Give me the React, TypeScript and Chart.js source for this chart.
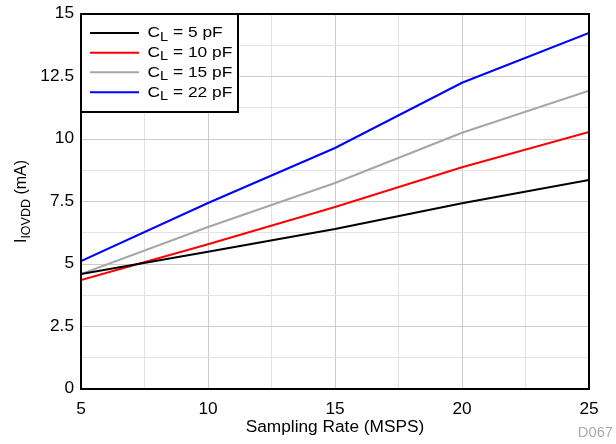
import React, { useEffect, useRef } from 'react';
import { Chart, registerables } from 'chart.js';

Chart.register(...registerables);

const samplingRate = [5, 10, 15, 20, 25];
const iCl5 = [4.6, 5.49, 6.4, 7.43, 8.36];
const iCl10 = [4.36, 5.79, 7.28, 8.87, 10.28];
const iCl15 = [4.6, 6.48, 8.24, 10.25, 11.93];
const iCl22 = [5.12, 7.44, 9.64, 12.25, 14.24];
const seriesValues = [iCl5, iCl10, iCl15, iCl22];
const seriesCaps = ['5', '10', '15', '22'];
const seriesColors = ['#000000', '#ff0000', '#a6a6a6', '#0000ff'];
const xTickLabels = ['5', '10', '15', '20', '25'];
const yTickLabels = ['0', '2.5', '5', '7.5', '10', '12.5', '15'];
const xTitle = 'Sampling Rate (MSPS)';
const yTitleMain = 'I';
const yTitleSub = 'IOVDD';
const yTitleRest = ' (mA)';
const figId = 'D067';

const FONT = '"Liberation Sans", Arial, Helvetica, sans-serif';
const SX = 1.08;

type Seg = { t: string; size: number; dy: number };

function drawSegs(
  ctx: CanvasRenderingContext2D,
  segs: Seg[],
  x: number,
  y: number,
  align: 'left' | 'center' | 'right',
  sx: number
) {
  ctx.save();
  ctx.translate(x, y);
  ctx.scale(sx, 1);
  ctx.textBaseline = 'middle';
  ctx.textAlign = 'left';
  let total = 0;
  const ws = segs.map((s) => {
    ctx.font = `${s.size}px ${FONT}`;
    const w = ctx.measureText(s.t).width;
    total += w;
    return w;
  });
  let cx = align === 'left' ? 0 : align === 'center' ? -total / 2 : -total;
  segs.forEach((s, i) => {
    ctx.font = `${s.size}px ${FONT}`;
    ctx.fillText(s.t, cx, s.dy);
    cx += ws[i];
  });
  ctx.restore();
}

const overlay = {
  id: 'overlay',
  afterDatasetsDraw(chart: any) {
    const ctx = chart.ctx as CanvasRenderingContext2D;
    const a = chart.chartArea;
    const xs = chart.scales.x;
    const ys = chart.scales.y;
    ctx.save();
    // legend box
    const lx = a.left, ly = a.top, lw = 157, lh = 98;
    ctx.fillStyle = '#fff';
    ctx.fillRect(lx, ly, lw, lh);
    ctx.lineWidth = 2;
    ctx.strokeStyle = '#000';
    ctx.strokeRect(lx, ly, lw, lh);
    const rows = [33, 52.7, 72.3, 92.3];
    seriesCaps.forEach((c, i) => {
      const y = rows[i];
      ctx.strokeStyle = seriesColors[i];
      ctx.lineWidth = 2;
      ctx.beginPath();
      ctx.moveTo(90, y);
      ctx.lineTo(139, y);
      ctx.stroke();
      ctx.fillStyle = '#000';
      drawSegs(
        ctx,
        [
          { t: 'C', size: 15.5, dy: 0 },
          { t: 'L', size: 13, dy: 4 },
          { t: ` = ${c} pF`, size: 15.5, dy: 0 },
        ],
        147.5,
        y,
        'left',
        1.12
      );
    });
    // frame
    ctx.strokeStyle = '#000';
    ctx.lineWidth = 2;
    ctx.strokeRect(a.left, a.top, a.right - a.left, a.bottom - a.top);
    ctx.fillStyle = '#000';
    // x tick labels
    xTickLabels.forEach((t) => {
      const px = xs.getPixelForValue(Number(t));
      drawSegs(ctx, [{ t, size: 16, dy: 0 }], px, 410, 'center', SX);
    });
    // y tick labels
    yTickLabels.forEach((t) => {
      const py = ys.getPixelForValue(Number(t));
      drawSegs(ctx, [{ t, size: 16, dy: 0 }], 74, py, 'right', SX);
    });
    // x title
    drawSegs(ctx, [{ t: xTitle, size: 16, dy: 0 }], (a.left + a.right) / 2, 428, 'center', SX);
    // y title
    ctx.save();
    ctx.translate(22, (a.top + a.bottom) / 2);
    ctx.rotate(-Math.PI / 2);
    drawSegs(
      ctx,
      [
        { t: yTitleMain, size: 16, dy: 0 },
        { t: yTitleSub, size: 12.5, dy: 4.5 },
        { t: yTitleRest, size: 16, dy: 0 },
      ],
      0,
      0,
      'center',
      1.0
    );
    ctx.restore();
    // figure id
    ctx.fillStyle = '#aaaaaa';
    drawSegs(ctx, [{ t: figId, size: 14, dy: 0 }], 613, 433, 'right', 1.05);
    ctx.restore();
  },
};

export default function App() {
  const ref = useRef<HTMLCanvasElement | null>(null);
  useEffect(() => {
    if (!ref.current) return;
    const chart = new Chart(ref.current, {
      type: 'line',
      data: {
        datasets: seriesValues.map((vals, i) => ({
          label: `CL = ${seriesCaps[i]} pF`,
          data: samplingRate.map((x, j) => ({ x, y: vals[j] })),
          borderColor: seriesColors[i],
          backgroundColor: seriesColors[i],
          borderWidth: 2,
          pointRadius: 0,
          tension: 0,
        })),
      },
      options: {
        responsive: false,
        animation: false,
        layout: { padding: { left: 0, top: 14, right: 27, bottom: 0 } },
        plugins: { legend: { display: false }, tooltip: { enabled: false } },
        scales: {
          x: {
            type: 'linear',
            min: 5,
            max: 25,
            afterFit: (s: any) => { s.height = 55; },
            afterBuildTicks: (s: any) => {
              const t = [];
              for (let v = 5; v <= 25.001; v += 2.5) t.push({ value: v });
              s.ticks = t;
            },
            ticks: { display: false },
            grid: {
              drawTicks: false,
              lineWidth: 1,
              color: (c: any) => (c.tick && c.tick.value % 5 === 0 ? '#cccccc' : '#e3e3e3'),
            },
            border: { display: false },
          },
          y: {
            min: 0,
            max: 15,
            afterFit: (s: any) => { s.width = 81; },
            afterBuildTicks: (s: any) => {
              const t = [];
              for (let v = 0; v <= 15.001; v += 1.25) t.push({ value: v });
              s.ticks = t;
            },
            ticks: { display: false },
            grid: {
              drawTicks: false,
              lineWidth: 1,
              color: (c: any) => (c.tick && c.tick.value % 2.5 === 0 ? '#cccccc' : '#e3e3e3'),
            },
            border: { display: false },
          },
        },
      },
      plugins: [overlay],
    });
    return () => chart.destroy();
  }, []);
  return (
    <div style={{ position: 'fixed', left: 0, top: 0, width: 616, height: 444, background: '#fff' }}>
      <canvas ref={ref} width={616} height={444} style={{ display: 'block' }} />
    </div>
  );
}
